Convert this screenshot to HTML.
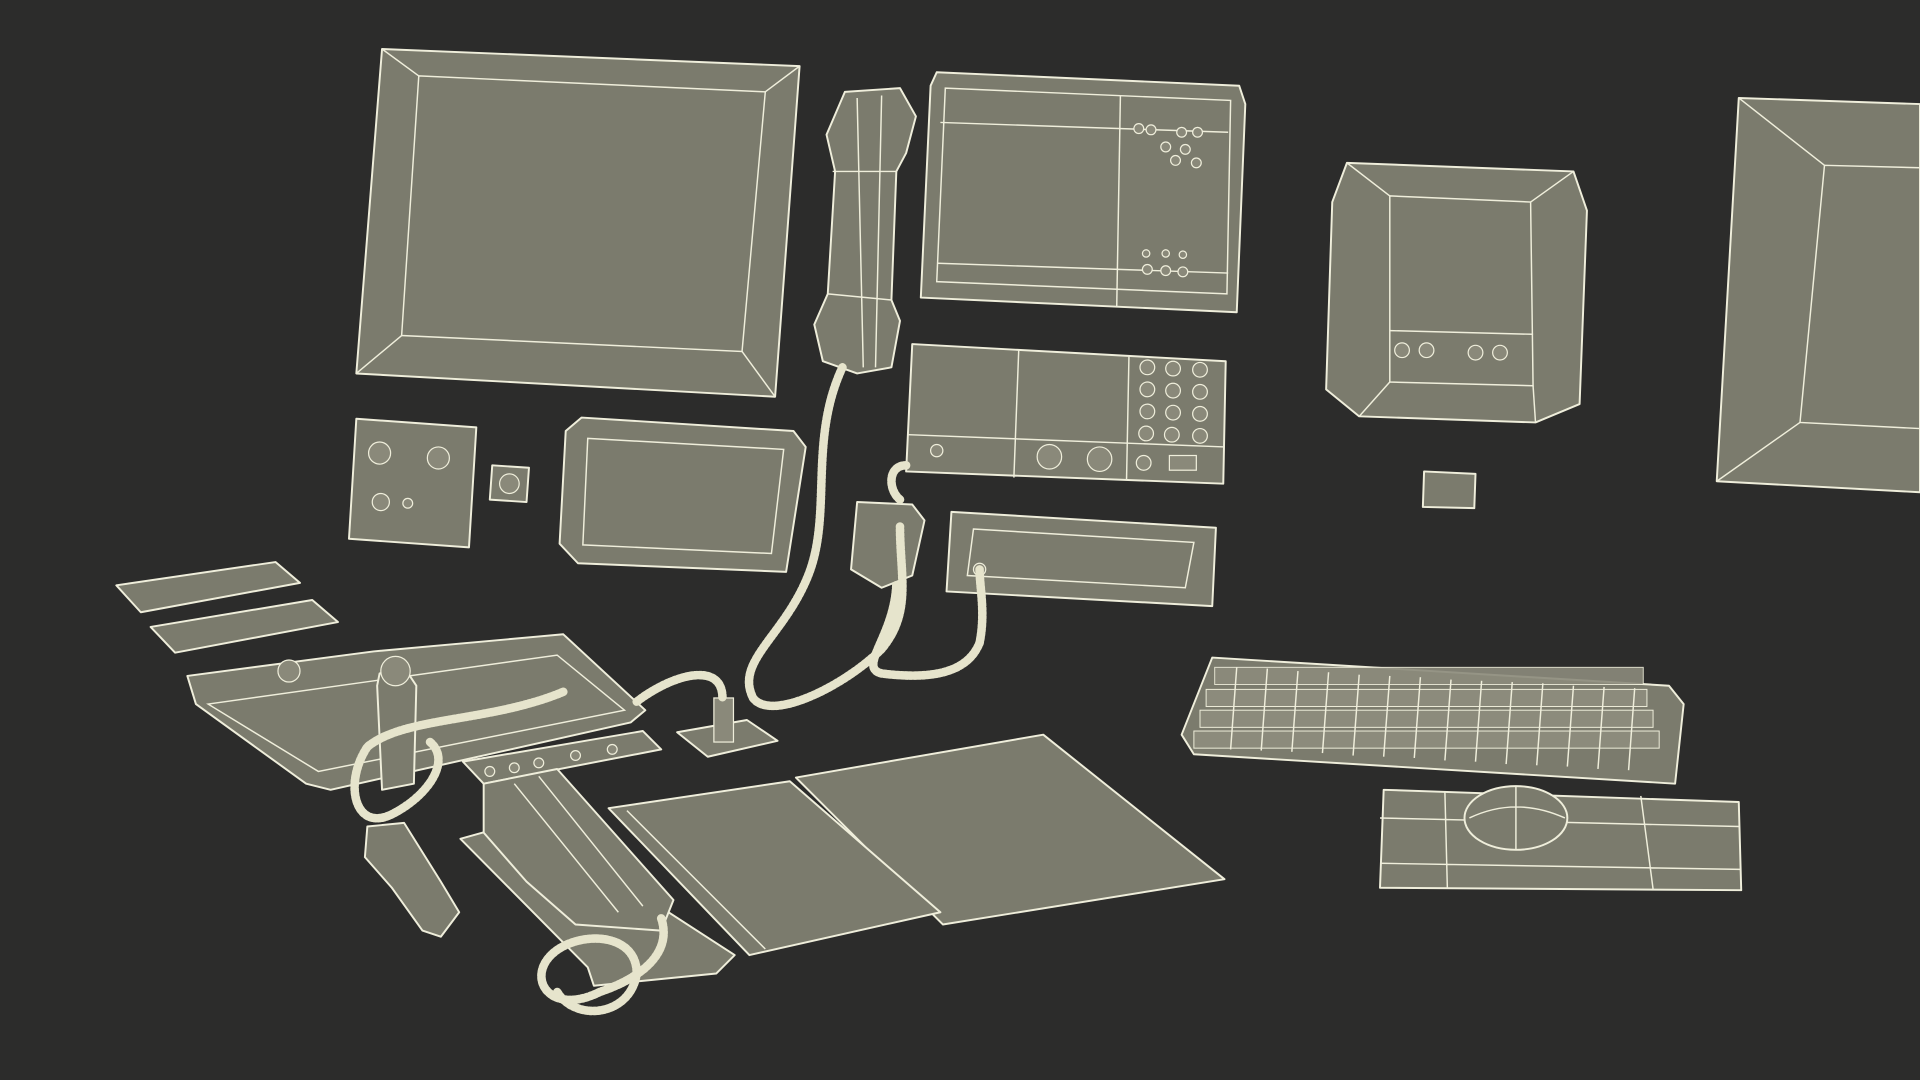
<!DOCTYPE html>
<html><head><meta charset="utf-8"><style>
html,body{margin:0;padding:0;background:#2c2c2b;width:1920px;height:1080px;overflow:hidden}
svg{display:block}
.o{fill:#7b7b6d;stroke:#efeedb;stroke-width:1.6;stroke-linejoin:round}
.l{fill:none;stroke:#efeedb;stroke-width:1.2}
.c{fill:none;stroke:#e6e4cc;stroke-width:7;stroke-dasharray:2 1.5;stroke-linecap:round}
.k{fill:#8a897a;stroke:#efeedb;stroke-width:1}
</style></head><body>
<svg width="1920" height="1080" viewBox="0 0 1568 882" preserveAspectRatio="none">
<rect width="1568" height="882" fill="#2c2c2b"/>
<!-- monitor 1 -->
<polygon class="o" points="312,40 653,54 633,324 291,305"/>
<polygon class="l" points="342,62 625,75 606,287 328,274"/>
<line class="l" x1="312" y1="40" x2="342" y2="62"/><line class="l" x1="653" y1="54" x2="625" y2="75"/>
<line class="l" x1="633" y1="324" x2="606" y2="287"/><line class="l" x1="291" y1="305" x2="328" y2="274"/>
<!-- handset top -->
<path class="o" d="M690,75 L735,72 L748,95 L740,125 L732,140 L728,245 L735,262 L728,300 L700,305 L672,295 L665,265 L676,240 L682,140 L675,110 Z"/>
<path class="l" d="M700,80 L705,300 M720,78 L715,300 M680,140 L732,140 M676,240 L728,245"/>
<!-- top-right panel -->
<polygon class="o" points="765,59 1012,70 1017,85 1010,255 752,243 760,70"/>
<polygon class="l" points="772,72 1005,82 1002,240 765,230"/>
<line class="l" x1="915" y1="78" x2="912" y2="250"/>
<line class="l" x1="768" y1="100" x2="1003" y2="108"/><line class="l" x1="766" y1="215" x2="1003" y2="223"/>
<g class="k"><circle cx="930" cy="105" r="4"/><circle cx="940" cy="106" r="4"/><circle cx="965" cy="108" r="4"/><circle cx="978" cy="108" r="4"/><circle cx="952" cy="120" r="4"/><circle cx="968" cy="122" r="4"/><circle cx="960" cy="131" r="4"/><circle cx="977" cy="133" r="4"/><circle cx="937" cy="220" r="4"/><circle cx="952" cy="221" r="4"/><circle cx="966" cy="222" r="4"/><circle cx="936" cy="207" r="3"/><circle cx="952" cy="207" r="3"/><circle cx="966" cy="208" r="3"/></g>
<!-- small monitor -->
<polygon class="o" points="1100,133 1285,140 1296,172 1290,330 1254,345 1110,340 1083,318 1088,165"/>
<polygon class="l" points="1135,160 1250,165 1252,315 1135,312"/>
<line class="l" x1="1100" y1="133" x2="1135" y2="160"/><line class="l" x1="1285" y1="140" x2="1250" y2="165"/>
<line class="l" x1="1254" y1="345" x2="1252" y2="315"/><line class="l" x1="1110" y1="340" x2="1135" y2="312"/>
<line class="l" x1="1135" y1="270" x2="1252" y2="273"/>
<g class="k"><circle cx="1145" cy="286" r="6"/><circle cx="1165" cy="286" r="6"/><circle cx="1205" cy="288" r="6"/><circle cx="1225" cy="288" r="6"/></g>
<!-- right monitor partial -->
<polygon class="o" points="1420,80 1568,85 1568,402 1402,393"/>
<polygon class="l" points="1490,135 1568,137 1568,350 1470,345"/>
<line class="l" x1="1420" y1="80" x2="1490" y2="135"/><line class="l" x1="1402" y1="393" x2="1470" y2="345"/>
<!-- radio panel -->
<polygon class="o" points="745,281 1001,295 999,395 740,385"/>
<line class="l" x1="742" y1="355" x2="1000" y2="365"/><line class="l" x1="832" y1="285" x2="828" y2="390"/><line class="l" x1="922" y1="290" x2="920" y2="392"/>
<g class="k"><circle cx="937" cy="300" r="6"/><circle cx="958" cy="301" r="6"/><circle cx="980" cy="302" r="6"/><circle cx="937" cy="318" r="6"/><circle cx="958" cy="319" r="6"/><circle cx="980" cy="320" r="6"/><circle cx="937" cy="336" r="6"/><circle cx="958" cy="337" r="6"/><circle cx="980" cy="338" r="6"/><circle cx="936" cy="354" r="6"/><circle cx="957" cy="355" r="6"/><circle cx="980" cy="356" r="6"/><circle cx="934" cy="378" r="6"/><circle cx="857" cy="373" r="10"/><circle cx="898" cy="375" r="10"/><circle cx="765" cy="368" r="5"/></g>
<rect class="k" x="955" y="372" width="22" height="12"/>
<!-- left square panel -->
<polygon class="o" points="291,342 389,349 383,447 285,440"/>
<g class="k"><circle cx="310" cy="370" r="9"/><circle cx="358" cy="374" r="9"/><circle cx="311" cy="410" r="7"/><circle cx="333" cy="411" r="4"/></g>
<polygon class="o" points="402,380 432,382 430,410 400,408"/>
<circle class="k" cx="416" cy="395" r="8"/>
<!-- rounded panel -->
<polygon class="o" points="475,341 648,352 658,365 642,467 472,460 457,444 462,352"/>
<polygon class="l" points="480,358 640,367 630,452 476,445"/>
<!-- small square -->
<polygon class="o" points="1163,385 1205,387 1204,415 1162,414"/>
<!-- bar panel -->
<polygon class="o" points="777,418 993,431 990,495 773,483"/>
<polygon class="l" points="795,432 975,443 968,480 790,470"/>
<circle class="k" cx="800" cy="465" r="5"/>
<!-- mic -->
<path class="o" d="M700,410 L745,412 L755,425 L745,470 L720,480 L695,465 Z"/>
<!-- plates -->
<polygon class="o" points="95,478 225,459 245,476 115,500"/>
<polygon class="o" points="123,512 255,490 276,508 143,533"/>
<!-- console base -->
<polygon class="o" points="153,552 305,532 460,518 527,580 515,590 270,645 250,640 160,575"/>
<polygon class="l" points="170,575 455,535 510,580 260,630"/>
<circle class="k" cx="236" cy="548" r="9"/>
<!-- joystick -->
<polygon class="o" points="310,550 330,545 340,560 338,640 312,645 308,560"/>
<circle class="k" cx="323" cy="548" r="12"/>
<path class="o" d="M300,675 L330,672 L360,720 L375,745 L360,765 L345,760 L320,725 L298,700 Z"/>
<!-- keyboard -->
<polygon class="o" points="990,537 1363,560 1375,575 1368,640 975,616 965,600"/>
<g fill="#8c8b7c" stroke="#efeedb" stroke-width="0.8">
<rect x="992" y="545" width="350" height="14" opacity="0.9"/>
<rect x="985" y="563" width="360" height="14"/>
<rect x="980" y="580" width="370" height="14"/>
<rect x="975" y="597" width="380" height="14"/>
</g>
<path class="l" d="M1010,545 L1005,612 M1035,546 L1030,613 M1060,548 L1055,614 M1085,549 L1080,615 M1110,551 L1105,617 M1135,552 L1130,618 M1160,553 L1155,619 M1185,555 L1180,621 M1210,556 L1205,622 M1235,557 L1230,624 M1260,558 L1255,625 M1285,560 L1280,626 M1310,561 L1305,628 M1335,562 L1330,629"/>
<!-- mousepad & mouse -->
<polygon class="o" points="1130,645 1420,655 1422,727 1127,725"/>
<path class="l" d="M1127,668 L1420,675 M1127,705 L1421,710 M1340,650 L1350,726 M1180,647 L1182,725"/>
<ellipse class="o" cx="1238" cy="668" rx="42" ry="26"/>
<path class="l" d="M1200,668 Q1238,650 1278,668 M1238,642 L1238,694"/>
<!-- papers -->
<polygon class="o" points="650,635 852,600 1000,718 770,755"/>
<polygon class="o" points="497,660 645,638 768,745 612,780"/>
<line class="l" x1="512" y1="662" x2="625" y2="775"/>
<!-- tray & phone -->
<polygon class="o" points="376,685 430,670 600,780 585,795 485,805 480,790"/>
<polygon class="o" points="378,622 525,597 540,612 395,640"/>
<g class="k"><circle cx="400" cy="630" r="4"/><circle cx="420" cy="627" r="4"/><circle cx="440" cy="623" r="4"/><circle cx="470" cy="617" r="4"/><circle cx="500" cy="612" r="4"/></g>
<path class="o" d="M395,640 L455,628 L550,735 L540,760 L470,755 L430,720 L395,680 Z"/>
<path class="l" d="M420,640 L505,745 M440,634 L525,740"/>
<!-- pedestal -->
<polygon class="o" points="553,598 610,588 635,605 578,618"/>
<rect class="k" x="583" y="570" width="16" height="36"/>
<!-- cords -->
<path class="c" d="M688,300 C660,360 680,420 660,470 C640,520 600,540 615,570 C630,590 690,560 720,530 C745,500 735,470 735,430"/>
<path class="c" d="M732,478 C730,520 700,545 720,550 C760,555 790,550 800,525 C805,500 800,480 800,465"/>
<path class="c" d="M740,380 C725,380 725,400 735,408"/>
<path class="c" d="M520,573 C550,550 590,540 590,570"/>
<path class="c" d="M460,565 C400,590 330,585 300,610 C280,640 290,680 320,665 C350,650 370,620 350,605"/>
<path class="c" d="M540,750 C550,780 520,800 490,810 C450,830 430,800 450,780 C470,760 520,760 520,795 C515,830 470,835 455,810"/>
</svg>
</body></html>
